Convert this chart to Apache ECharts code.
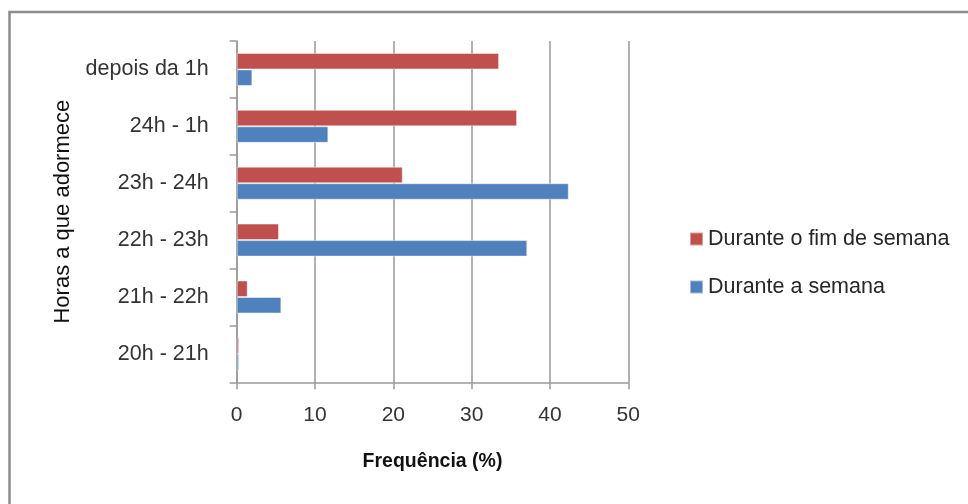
<!DOCTYPE html>
<html>
<head>
<meta charset="utf-8">
<script src="https://cdn.jsdelivr.net/npm/echarts@6/dist/echarts.min.js"></script>
<style>
  html, body { margin: 0; padding: 0; background: #ffffff; }
  #chart { width: 968px; height: 504px; }
</style>
</head>
<body>
<div id="chart"></div>
<script>
// Time slots when falling asleep (bottom to top on the category axis)
const categories = ['20h - 21h', '21h - 22h', '22h - 23h', '23h - 24h', '24h - 1h', 'depois da 1h'];
// Frequency (%) during the week
const weekdayValues = [0.3, 5.7, 37.1, 42.4, 11.7, 2.0];
// Frequency (%) during the weekend
const weekendValues = [0.3, 1.4, 5.4, 21.2, 35.8, 33.5];
// Value axis ticks
const xTicks = [0, 10, 20, 30, 40, 50];

const seriesNames = ['Durante o fim de semana', 'Durante a semana'];
const FONT = '"Liberation Sans", Arial, sans-serif';
const AXIS_GREY = '#999999';

const chart = echarts.init(document.getElementById('chart'), null, { renderer: 'canvas' });

chart.setOption({
  backgroundColor: '#ffffff',
  animation: false,
  textStyle: { fontFamily: FONT },
  graphic: [
    {
      // outer chart frame (top and left edges)
      type: 'polyline',
      shape: { points: [[9.5, 504], [9.5, 12], [968, 12]] },
      style: { stroke: '#8c8c8c', lineWidth: 2.5, fill: null },
      silent: true
    }
  ],
  grid: {
    left: 236.7,
    top: 41,
    width: 391.6,
    height: 341.3,
    containLabel: false
  },
  legend: {
    orient: 'vertical',
    left: 684,
    top: 223,
    itemWidth: 13,
    itemHeight: 13,
    itemGap: 26,
    icon: 'rect',
    data: seriesNames,
    textStyle: { fontSize: 21.5, color: '#262626', fontFamily: FONT }
  },
  xAxis: {
    type: 'value',
    min: xTicks[0],
    max: xTicks[xTicks.length - 1],
    interval: xTicks[1] - xTicks[0],
    name: 'Frequência (%)',
    nameLocation: 'middle',
    nameGap: 69,
    nameTextStyle: { fontSize: 19.5, fontWeight: 'bold', color: '#111111', fontFamily: FONT },
    axisLine: { show: true, lineStyle: { color: AXIS_GREY, width: 1.5 } },
    axisTick: { show: true, length: 7, lineStyle: { color: AXIS_GREY, width: 1.5 } },
    axisLabel: { fontSize: 21, color: '#333333', margin: 22, fontFamily: FONT },
    splitLine: { show: true, lineStyle: { color: AXIS_GREY, width: 1.5 } }
  },
  yAxis: {
    type: 'category',
    data: categories,
    name: 'Horas a que adormece',
    nameLocation: 'middle',
    nameGap: 163,
    nameRotate: 90,
    nameTextStyle: { fontSize: 22, color: '#111111', fontFamily: FONT },
    axisLine: { show: true, lineStyle: { color: AXIS_GREY, width: 1.5 } },
    axisTick: { show: true, length: 7, alignWithLabel: false, lineStyle: { color: AXIS_GREY, width: 1.5 } },
    axisLabel: { fontSize: 21.5, color: '#333333', margin: 28, fontFamily: FONT },
    splitLine: { show: false }
  },
  series: [
    {
      name: seriesNames[0],
      type: 'bar',
      data: weekendValues,
      barGap: '0%',
      barCategoryGap: '42%',
      itemStyle: { color: '#C0504D', borderColor: 'rgba(255,255,255,0.45)', borderWidth: 1 }
    },
    {
      name: seriesNames[1],
      type: 'bar',
      data: weekdayValues,
      barGap: '0%',
      barCategoryGap: '42%',
      itemStyle: { color: '#4F81BD', borderColor: 'rgba(255,255,255,0.45)', borderWidth: 1 }
    }
  ]
});
</script>
</body>
</html>
